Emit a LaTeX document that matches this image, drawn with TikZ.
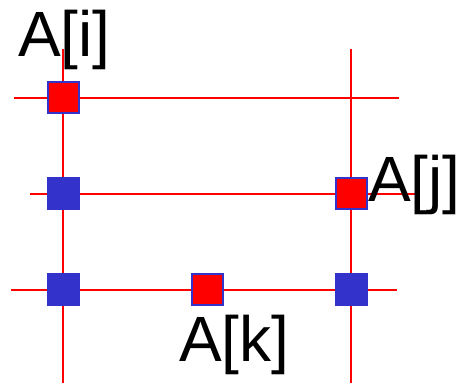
\documentclass[tikz,border=0pt]{standalone}
\usepackage{fontspec}
\setmainfont{Liberation Sans}
\definecolor{cblue}{RGB}{51,51,204}
\definecolor{cred}{RGB}{255,0,0}
\tikzset{
  grid line/.style={draw=cred, line width=2pt},
  redsq/.style={draw=cblue, fill=cred, line width=2pt, minimum size=31pt, inner sep=0pt, outer sep=0pt},
  bluesq/.style={draw=cblue, fill=cblue, line width=2pt, minimum size=31pt, inner sep=0pt, outer sep=0pt},
  lbl/.style={font=\fontsize{64}{64}\selectfont, anchor=base west, inner sep=0pt}
}
\begin{document}
\begin{tikzpicture}[x=1pt,y=1pt]
\useasboundingbox (0,0) rectangle (461,383);
% line end points
\coordinate (v1t) at (63,334);
\coordinate (v1b) at (63,0);
\coordinate (v2t) at (351,334);
\coordinate (v2b) at (351,0);
\coordinate (h1l) at (14,285);
\coordinate (h1r) at (399,285);
\coordinate (h2l) at (30,189);
\coordinate (h2r) at (415,189);
\coordinate (h3l) at (11,93);
\coordinate (h3r) at (397,93);
\draw[grid line] (v1t) -- (v1b);
\draw[grid line] (v2t) -- (v2b);
\draw[grid line] (h1l) -- (h1r);
\draw[grid line] (h2l) -- (h2r);
\draw[grid line] (h3l) -- (h3r);
% squares
\node[redsq] (ai) at (63,285) {};
\node[bluesq] (b1) at (63,189) {};
\node[redsq] (aj) at (351,189) {};
\node[bluesq] (b2) at (63,93) {};
\node[redsq] (ak) at (207,93) {};
\node[bluesq] (b3) at (351,93) {};
% labels
\node[lbl] (li) at (18,326) {A[i]};
\node[lbl] (lj) at (368,181) {A[j]};
\node[lbl] (lk) at (179,21) {A[k]};
\end{tikzpicture}
\end{document}
